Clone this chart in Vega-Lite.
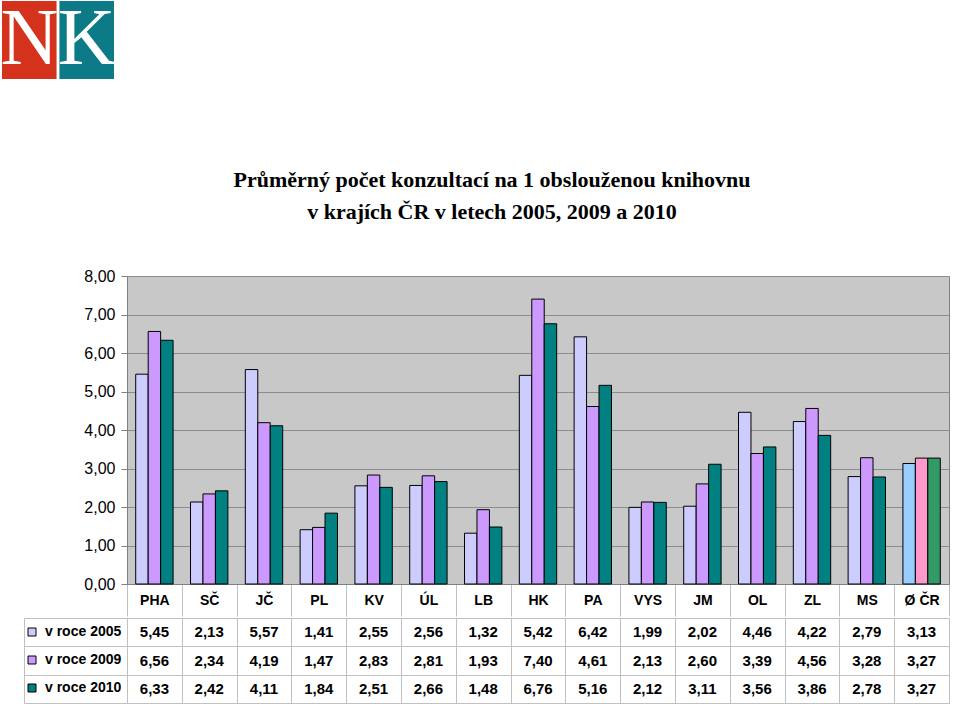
{
  "$schema": "https://vega.github.io/schema/vega-lite/v6.json",
  "background": "white",
  "padding": {"left": 0, "top": 0, "right": 0, "bottom": 0},
  "config": {
    "locale": {"number": {"decimal": ",", "thousands": " ", "grouping": [3], "currency": ["", " Kč"]}},
    "font": "Liberation Sans"
  },
  "datasets": {
    "kraje": [
      {"kraj": "PHA", "rok": "v roce 2005", "hodnota": 5.45},
      {"kraj": "SČ", "rok": "v roce 2005", "hodnota": 2.13},
      {"kraj": "JČ", "rok": "v roce 2005", "hodnota": 5.57},
      {"kraj": "PL", "rok": "v roce 2005", "hodnota": 1.41},
      {"kraj": "KV", "rok": "v roce 2005", "hodnota": 2.55},
      {"kraj": "ÚL", "rok": "v roce 2005", "hodnota": 2.56},
      {"kraj": "LB", "rok": "v roce 2005", "hodnota": 1.32},
      {"kraj": "HK", "rok": "v roce 2005", "hodnota": 5.42},
      {"kraj": "PA", "rok": "v roce 2005", "hodnota": 6.42},
      {"kraj": "VYS", "rok": "v roce 2005", "hodnota": 1.99},
      {"kraj": "JM", "rok": "v roce 2005", "hodnota": 2.02},
      {"kraj": "OL", "rok": "v roce 2005", "hodnota": 4.46},
      {"kraj": "ZL", "rok": "v roce 2005", "hodnota": 4.22},
      {"kraj": "MS", "rok": "v roce 2005", "hodnota": 2.79},
      {"kraj": "Ø ČR", "rok": "v roce 2005", "hodnota": 3.13},
      {"kraj": "PHA", "rok": "v roce 2009", "hodnota": 6.56},
      {"kraj": "SČ", "rok": "v roce 2009", "hodnota": 2.34},
      {"kraj": "JČ", "rok": "v roce 2009", "hodnota": 4.19},
      {"kraj": "PL", "rok": "v roce 2009", "hodnota": 1.47},
      {"kraj": "KV", "rok": "v roce 2009", "hodnota": 2.83},
      {"kraj": "ÚL", "rok": "v roce 2009", "hodnota": 2.81},
      {"kraj": "LB", "rok": "v roce 2009", "hodnota": 1.93},
      {"kraj": "HK", "rok": "v roce 2009", "hodnota": 7.40},
      {"kraj": "PA", "rok": "v roce 2009", "hodnota": 4.61},
      {"kraj": "VYS", "rok": "v roce 2009", "hodnota": 2.13},
      {"kraj": "JM", "rok": "v roce 2009", "hodnota": 2.60},
      {"kraj": "OL", "rok": "v roce 2009", "hodnota": 3.39},
      {"kraj": "ZL", "rok": "v roce 2009", "hodnota": 4.56},
      {"kraj": "MS", "rok": "v roce 2009", "hodnota": 3.28},
      {"kraj": "Ø ČR", "rok": "v roce 2009", "hodnota": 3.27},
      {"kraj": "PHA", "rok": "v roce 2010", "hodnota": 6.33},
      {"kraj": "SČ", "rok": "v roce 2010", "hodnota": 2.42},
      {"kraj": "JČ", "rok": "v roce 2010", "hodnota": 4.11},
      {"kraj": "PL", "rok": "v roce 2010", "hodnota": 1.84},
      {"kraj": "KV", "rok": "v roce 2010", "hodnota": 2.51},
      {"kraj": "ÚL", "rok": "v roce 2010", "hodnota": 2.66},
      {"kraj": "LB", "rok": "v roce 2010", "hodnota": 1.48},
      {"kraj": "HK", "rok": "v roce 2010", "hodnota": 6.76},
      {"kraj": "PA", "rok": "v roce 2010", "hodnota": 5.16},
      {"kraj": "VYS", "rok": "v roce 2010", "hodnota": 2.12},
      {"kraj": "JM", "rok": "v roce 2010", "hodnota": 3.11},
      {"kraj": "OL", "rok": "v roce 2010", "hodnota": 3.56},
      {"kraj": "ZL", "rok": "v roce 2010", "hodnota": 3.86},
      {"kraj": "MS", "rok": "v roce 2010", "hodnota": 2.78},
      {"kraj": "Ø ČR", "rok": "v roce 2010", "hodnota": 3.27}
    ],
    "logo": [{"pismeno": "N"}, {"pismeno": "K"}]
  },
  "spacing": 88,
  "resolve": {"scale": {"color": "independent", "x": "independent", "y": "independent"}, "legend": {"color": "independent"}},
  "vconcat": [
    {
      "width": 112,
      "height": 78,
      "data": {"name": "logo"},
      "view": {"stroke": null},
      "encoding": {
        "x": {"field": "pismeno", "type": "nominal", "sort": ["N", "K"], "scale": {"range": [-125, -13], "paddingInner": 0.05, "paddingOuter": 0}, "axis": null}
      },
      "layer": [
        {
          "mark": {"type": "rect"},
          "encoding": {
            "color": {"field": "pismeno", "type": "nominal", "scale": {"domain": ["N", "K"], "range": ["#d5321e", "#0d7b87"]}, "legend": null}
          }
        },
        {
          "mark": {"type": "text", "font": "Liberation Serif", "fontSize": 80, "color": "white", "baseline": "middle"},
          "encoding": {"text": {"field": "pismeno", "type": "nominal"}}
        }
      ]
    },
    {
      "spacing": 0,
      "resolve": {"scale": {"color": "independent", "x": "independent", "y": "independent"}, "legend": {"color": "independent"}},
      "vconcat": [
        {
          "width": 822,
          "height": 308,
          "title": {
            "text": ["Průměrný počet konzultací na 1 obslouženou knihovnu", "v krajích ČR v letech 2005, 2009 a 2010"],
            "font": "Liberation Serif", "fontSize": 22, "fontWeight": "bold", "color": "black",
            "anchor": "middle", "frame": "group", "dx": -46, "offset": 44, "lineHeight": 32
          },
          "view": {"fill": "#c8c8c8", "stroke": "#808080"},
          "data": {"name": "kraje"},
          "encoding": {
            "x": {
              "field": "kraj", "type": "nominal",
              "scale": {"domain": ["PHA", "SČ", "JČ", "PL", "KV", "ÚL", "LB", "HK", "PA", "VYS", "JM", "OL", "ZL", "MS", "Ø ČR"], "paddingInner": 0, "paddingOuter": 0},
              "axis": {"title": null, "labelAngle": 0, "labelFontSize": 14, "labelFontWeight": "bold", "labelColor": "black", "labelPadding": -23, "tickBand": "extent", "tickSize": 32, "tickColor": "#c0c0c0", "domainColor": "#808080", "grid": false}
            },
            "xOffset": {"field": "rok", "type": "nominal", "scale": {"paddingInner": 0, "paddingOuter": 0.7}},
            "y": {
              "field": "hodnota", "type": "quantitative",
              "scale": {"domain": [0, 8], "nice": false},
              "axis": {"title": null, "values": [0, 1, 2, 3, 4, 5, 6, 7, 8], "format": ".2f", "labelFontSize": 16, "labelColor": "black", "labelPadding": 6, "tickSize": 6, "tickColor": "#808080", "domainColor": "#808080", "grid": true, "gridColor": "#8c8c8c", "gridOpacity": 1}
            }
          },
          "layer": [
            {
              "transform": [{"filter": "datum.kraj !== 'Ø ČR'"}],
              "mark": {"type": "bar", "stroke": "black", "strokeWidth": 1},
              "encoding": {
                "color": {"field": "rok", "type": "nominal", "scale": {"domain": ["v roce 2005", "v roce 2009", "v roce 2010"], "range": ["#ccccff", "#cc99ff", "#008080"]}, "legend": null}
              }
            },
            {
              "transform": [{"filter": "datum.kraj === 'Ø ČR'"}],
              "mark": {"type": "bar", "stroke": "black", "strokeWidth": 1},
              "encoding": {
                "color": {"field": "rok", "type": "nominal", "scale": {"domain": ["v roce 2005", "v roce 2009", "v roce 2010"], "range": ["#99ccff", "#ff99cc", "#339966"]}, "legend": null}
              }
            }
          ],
          "resolve": {"scale": {"color": "independent"}}
        },
        {
          "width": 822,
          "height": 85,
          "view": {"stroke": "#c0c0c0"},
          "data": {"name": "kraje"},
          "encoding": {
            "x": {
              "field": "kraj", "type": "nominal",
              "scale": {"domain": ["PHA", "SČ", "JČ", "PL", "KV", "ÚL", "LB", "HK", "PA", "VYS", "JM", "OL", "ZL", "MS", "Ø ČR"], "paddingInner": 0, "paddingOuter": 0},
              "axis": {"title": null, "labels": false, "ticks": false, "domain": false, "grid": true, "tickBand": "extent", "gridColor": "#c0c0c0", "gridOpacity": 1}
            }
          },
          "layer": [
            {
              "mark": {"type": "text", "fontSize": 15, "fontWeight": "bold", "color": "black", "baseline": "middle"},
              "encoding": {
                "y": {
                  "field": "rok", "type": "nominal",
                  "scale": {"domain": ["v roce 2005", "v roce 2009", "v roce 2010"], "paddingInner": 0, "paddingOuter": 0},
                  "axis": {"orient": "left", "title": null, "labels": false, "tickBand": "extent", "tickSize": 103, "tickColor": "#c0c0c0", "domainColor": "#c0c0c0", "grid": true, "gridColor": "#c0c0c0", "gridOpacity": 1, "minExtent": 125}
                },
                "text": {"field": "hodnota", "type": "quantitative", "format": ".2f"}
              }
            },
            {
              "mark": {"type": "square", "opacity": 0, "size": 64},
              "encoding": {
                "y": {
                  "field": "rok", "type": "nominal",
                  "axis": {"orient": "left", "offset": 103, "title": null, "labels": false, "ticks": false, "grid": false, "domainColor": "#c0c0c0", "minExtent": 0}
                },
                "color": {
                  "field": "rok", "type": "nominal",
                  "scale": {"domain": ["v roce 2005", "v roce 2009", "v roce 2010"], "range": ["#ccccff", "#cc99ff", "#008080"]},
                  "legend": {
                    "orient": "none", "legendX": -102, "legendY": 7, "title": null, "direction": "vertical",
                    "symbolType": "square", "symbolSize": 64, "symbolStrokeColor": "black", "symbolStrokeWidth": 1, "symbolOpacity": 1,
                    "labelFont": "Liberation Sans", "labelFontSize": 14, "labelFontWeight": "bold", "labelColor": "black",
                    "labelOffset": 6, "rowPadding": 14, "padding": 0,
                    "encode": {"symbols": {"update": {"opacity": {"value": 1}, "stroke": {"value": "black"}, "strokeWidth": {"value": 1}}}}
                  }
                }
              }
            }
          ],
          "resolve": {"axis": {"y": "independent"}}
        }
      ]
    }
  ]
}
